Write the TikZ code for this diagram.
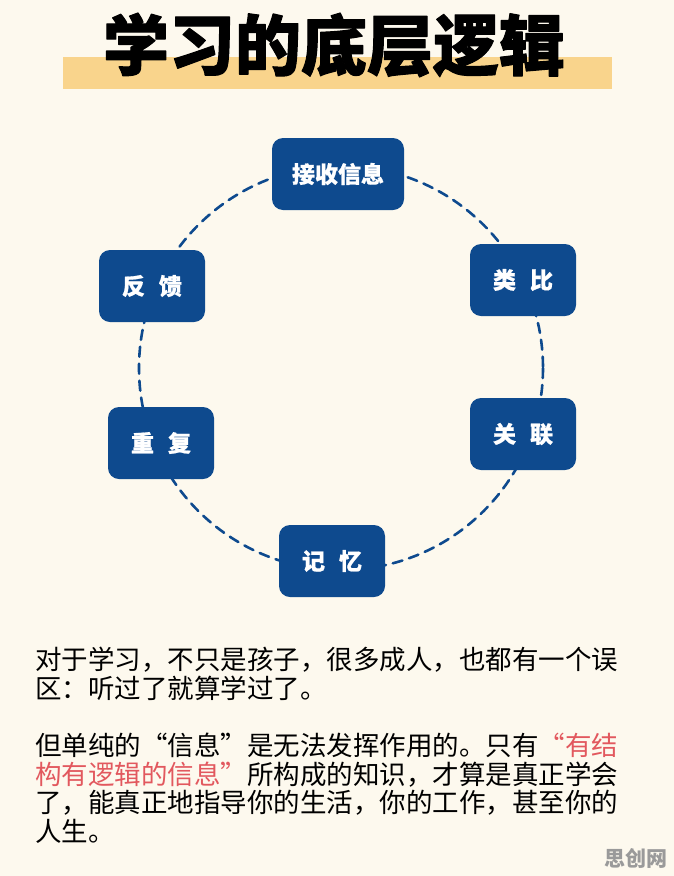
\documentclass[tikz,border=0pt]{standalone}
\usepackage{fontspec}
\setmainfont{Noto Sans CJK SC}
\newfontfamily\cjk{Noto Sans CJK SC}
\newfontfamily\titlecjk{Noto Sans CJK SC}[FakeBold=1.6]
\newfontfamily\boxcjk{Noto Sans CJK SC}[FakeBold=0.8]
\usetikzlibrary{positioning}

\definecolor{cream}{HTML}{FDF9EE}
\definecolor{bandyellow}{HTML}{F9D48C}
\definecolor{navy}{HTML}{0E4A8E}
\definecolor{accentred}{HTML}{E2585E}
\definecolor{markgray}{HTML}{9A9A9A}

\tikzset{
  stepbox/.style={fill=navy,rounded corners=11pt,minimum height=72pt,
    text=white,font=\boxcjk\bfseries\fontsize{23}{26}\selectfont,inner sep=0pt},
  widebox/.style={stepbox,minimum width=132pt},
  narrowbox/.style={stepbox,minimum width=106pt},
  ring/.style={draw=navy,line width=2.6pt,dash pattern=on 10pt off 7pt},
  bodytext/.style={anchor=north west,align=left,inner sep=0pt,
    font=\cjk\fontsize{26.5}{28.6}\selectfont}
}

\begin{document}
\begin{tikzpicture}[x=1pt,y=-1pt,line cap=round,line join=round]
\fill[cream] (0,0) rectangle (674,876);
\useasboundingbox (0,0) rectangle (674,876);
% title
\fill[bandyellow] (63,57) rectangle (612,89);
\node[font=\titlecjk\bfseries\fontsize{66}{68}\selectfont] (title) at (334,45) {学习的底层逻辑};
% cycle
\coordinate (mid) at (341,368);
\draw[ring] (mid) circle (202);
\node[widebox] (recv) at (338,174) {接收信息};
\node[narrowbox] (analog) at (523,280) {类\hspace{14pt}比};
\node[narrowbox] (link) at (523,434) {关\hspace{14pt}联};
\node[narrowbox] (memo) at (332,561) {记\hspace{14pt}忆};
\node[narrowbox] (again) at (161,443) {重\hspace{14pt}复};
\node[narrowbox] (back) at (152,286) {反\hspace{14pt}馈};
% text
\node[bodytext] (para1) at (35,647) {对于学习，不只是孩子，很多成人，也都有一个误\\区：听过了就算学过了。};
\node[bodytext] (para2) at (35,733) {但单纯的“信息”是无法发挥作用的。只有\textcolor{accentred}{“有结}\\\textcolor{accentred}{构有逻辑的信息”}所构成的知识，才算是真正学会\\了，能真正地指导你的生活，你的工作，甚至你的\\人生。};
\node[text=markgray,font=\cjk\bfseries\fontsize{21}{22}\selectfont] (mark) at (636,858) {思创网};
\end{tikzpicture}
\end{document}
